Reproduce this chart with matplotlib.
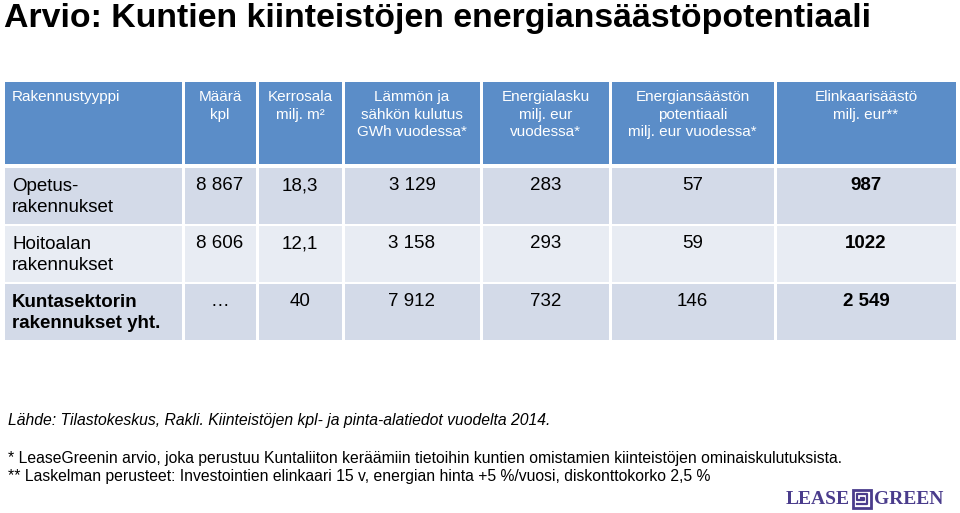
import matplotlib.pyplot as plt
from matplotlib.patches import Rectangle

plt.rcParams['font.family'] = ['Liberation Sans', 'DejaVu Sans']

title = "Arvio: Kuntien kiinteistöjen energiansäästöpotentiaali"

headers = ["Rakennustyyppi", "Määrä\nkpl", "Kerrosala\nmilj. m²",
           "Lämmön ja\nsähkön kulutus\nGWh vuodessa*", "Energialasku\nmilj. eur\nvuodessa*",
           "Energiansäästön\npotentiaali\nmilj. eur vuodessa*", "Elinkaarisäästö\nmilj. eur**"]
row_labels = ["Opetus-\nrakennukset", "Hoitoalan\nrakennukset", "Kuntasektorin\nrakennukset yht."]
maara = ["8 867", "8 606", "\u2026"]
kerrosala = ["18,3", "12,1", "40"]
kulutus = ["3 129", "3 158", "7 912"]
lasku = ["283", "293", "732"]
potentiaali = ["57", "59", "146"]
elinkaari = ["987", "1022", "2 549"]

source = "Lähde: Tilastokeskus, Rakli. Kiinteistöjen kpl- ja pinta-alatiedot vuodelta 2014."
notes = ["* LeaseGreenin arvio, joka perustuu Kuntaliiton keräämiin tietoihin kuntien omistamien kiinteistöjen ominaiskulutuksista.",
         "** Laskelman perusteet: Investointien elinkaari 15 v, energian hinta +5 %/vuosi, diskonttokorko 2,5 %"]

# column edges (px) and row edges
col_edges = [3, 183, 257, 343, 481, 610, 775, 957]
head_top, head_bot = 82, 164
row_edges = [(168, 224), (226, 282), (284, 340)]
head_col = "#5B8DC8"
row_cols = ["#D3DAE8", "#E8ECF3", "#D3DAE8"]

fig = plt.figure(figsize=(9.6, 5.13), dpi=100)
ax = fig.add_axes([0, 0, 1, 1])
ax.set_xlim(0, 960)
ax.set_ylim(513, 0)
ax.axis("off")

ax.text(4, 27, title, fontsize=24.4, fontweight="bold", va="baseline", ha="left")

gap = 1.5
for i in range(len(col_edges) - 1):
    x0, x1 = col_edges[i], col_edges[i + 1]
    ax.add_patch(Rectangle((x0 + gap, head_top), x1 - x0 - 2 * gap, head_bot - head_top,
                           color=head_col, lw=0))
    for r, (y0, y1) in enumerate(row_edges):
        ax.add_patch(Rectangle((x0 + gap, y0), x1 - x0 - 2 * gap, y1 - y0,
                               color=row_cols[r], lw=0))

# header text
for i, h in enumerate(headers):
    if i == 0:
        ax.text(12, 97, h, fontsize=11, color="white", ha="left", va="center")
    else:
        cx = (col_edges[i] + col_edges[i + 1]) / 2
        ax.text(cx, 90, h, fontsize=11, color="white", ha="center", va="top",
                linespacing=1.32)

# body
columns = [maara, kerrosala, kulutus, lasku, potentiaali, elinkaari]
for r, (y0, y1) in enumerate(row_edges):
    bold = "bold" if r == 2 else "normal"
    ax.text(12, y0 + 10, row_labels[r], fontsize=13.5, ha="left", va="top",
            fontweight=bold, linespacing=1.28)
    for c, vals in enumerate(columns):
        cx = (col_edges[c + 1] + col_edges[c + 2]) / 2
        ax.text(cx, y0 + 18, vals[r], fontsize=13.5, ha="center", va="center",
                fontweight="bold" if c == 5 else "normal")

ax.text(8, 421, source, fontsize=11.3, style="italic", ha="left", va="center")
ax.text(8, 458, notes[0], fontsize=11.3, ha="left", va="center")
ax.text(8, 476, notes[1], fontsize=11.3, ha="left", va="center")

# logo
logo_col = "#4A3C8C"
ax.text(850, 499, "LEASE", fontsize=14, fontweight="bold", family="Liberation Serif",
        color=logo_col, ha="right", va="center")
ax.add_patch(Rectangle((853, 490), 18, 18, fill=False, ec=logo_col, lw=2))
ax.plot([857, 867, 867, 857, 857, 864, 864, 861], [504, 504, 494, 494, 500, 500, 498, 498],
        color=logo_col, lw=1.6)
ax.text(874, 499, "GREEN", fontsize=14, fontweight="bold", family="Liberation Serif",
        color=logo_col, ha="left", va="center")

fig.savefig("out.png", dpi=100)
